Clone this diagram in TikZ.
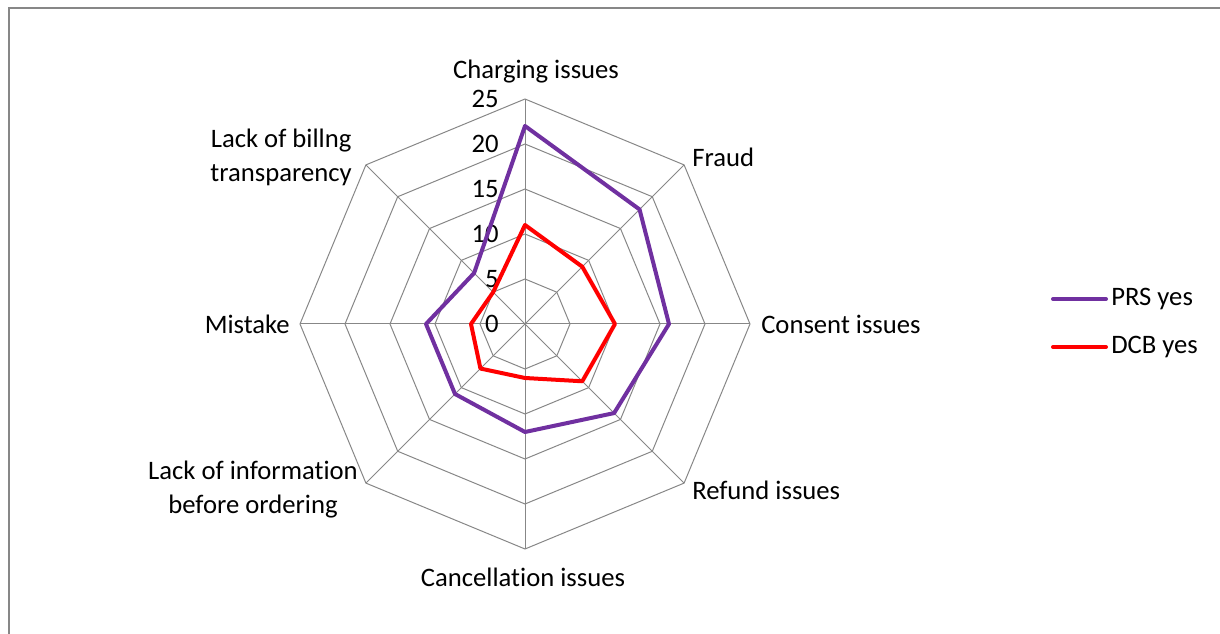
\documentclass[tikz,border=0pt]{standalone}
\usepackage{fontspec}
\setmainfont[Ligatures=NoCommon]{Carlito}
\definecolor{prspurple}{HTML}{7030A0}
\definecolor{gridgray}{HTML}{878787}
\tikzset{
  gridline/.style={draw=gridgray, line width=0.75pt},
  prsline/.style={draw=prspurple, line width=3pt, line join=round},
  dcbline/.style={draw=red, line width=3pt, line join=round},
  axislabel/.style={font=\fontsize{20}{25.5}\selectfont, inner sep=0pt, align=center},
  ticklabel/.style={font=\fontsize{20}{24}\selectfont, inner sep=0pt, anchor=east},
}
\begin{document}
\begin{tikzpicture}[x=0.75pt, y=0.75pt]
        \useasboundingbox (-525,-310) rectangle (695,324);
        \draw[gridgray, line width=1.5pt] (-515.5,-310) -- (-515.5,316) -- (695,316);

        % rings and spokes
        \foreach \r in {1,...,5}
            \draw[gridline] (90:{\r*45}) \foreach \k in {1,...,7} { -- ({90-45*\k}:{\r*45}) } -- cycle;
        \foreach \k in {0,...,7}
            \draw[gridline] (0,0) -- ({90-45*\k}:225);

        \foreach \v in {0,5,...,25}
            \node[ticklabel] (tick\v) at (-26,{\v*9}) {\v};

        \node[axislabel] (charging) at (11,252) {Charging issues};
        \node[axislabel, anchor=west] (fraud) at (167,167) {Fraud};
        \node[axislabel, anchor=west] (consent) at (236,0) {Consent issues};
        \node[axislabel, anchor=west] (refund) at (167,-166) {Refund issues};
        \node[axislabel] (cancel) at (-2,-253) {Cancellation issues};
        \node[axislabel, anchor=east] (info) at (-167,-166) {Lack of information\\before ordering};
        \node[axislabel, anchor=east] (mistake) at (-235,0) {Mistake};
        \node[axislabel, anchor=east] (billing) at (-173,167) {Lack of billng\\transparency};

        % series
        \foreach \v [count=\k from 0] in {22,18,16,14,12,11,11,8}
            \coordinate (prs\k) at ({90-45*\k}:{\v*9});
        \foreach \v [count=\k from 0] in {11,9,10,9,6,7,6,5}
            \coordinate (dcb\k) at ({90-45*\k}:{\v*9});
        \draw[prsline] (prs0) -- (prs1) -- (prs2) -- (prs3) -- (prs4) -- (prs5) -- (prs6) -- (prs7) -- cycle;
        \draw[dcbline] (dcb0) -- (dcb1) -- (dcb2) -- (dcb3) -- (dcb4) -- (dcb5) -- (dcb6) -- (dcb7) -- cycle;

        % legend
        \node[axislabel, anchor=west] (prskey) at (586,25) {PRS yes};
        \node[axislabel, anchor=west] (dcbkey) at (586,-23) {DCB yes};
        \draw[prsline, line cap=round] ([xshift=-3.75pt]prskey.west) -- ++(-53,0);
        \draw[dcbline, line cap=round] ([xshift=-3.75pt]dcbkey.west) -- ++(-53,0);
    \end{tikzpicture}
\end{document}
